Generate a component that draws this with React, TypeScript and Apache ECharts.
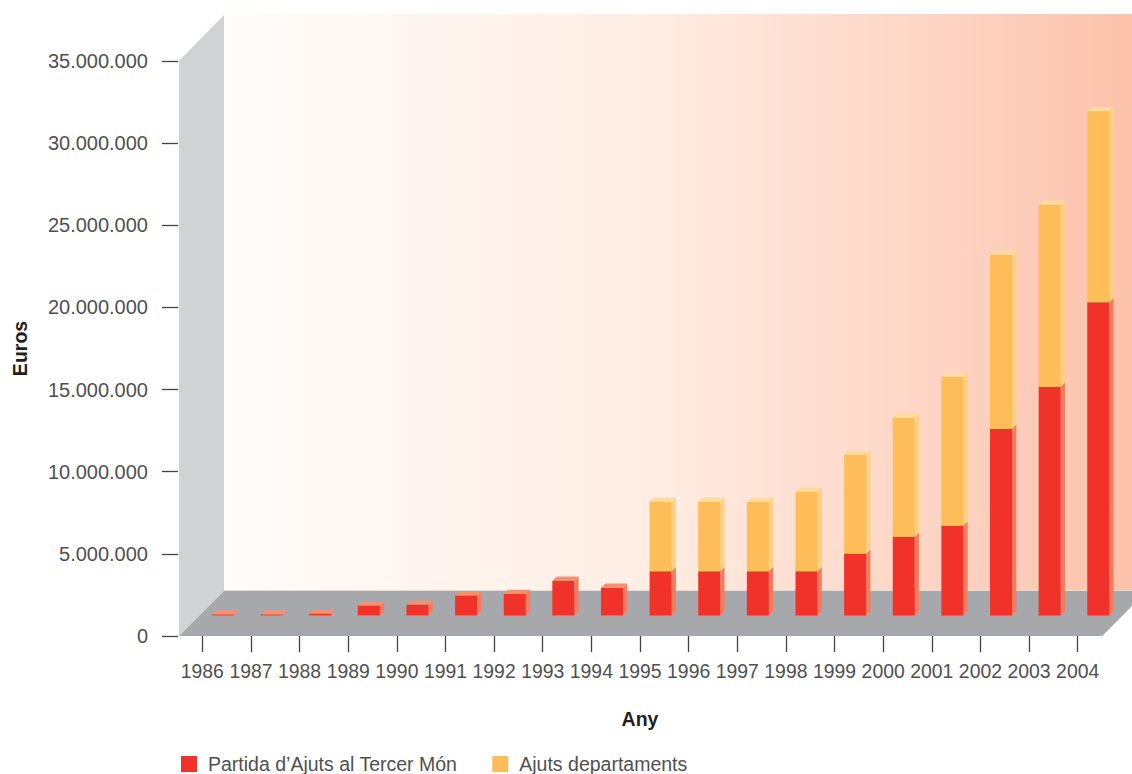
import React, { useEffect, useRef } from "react";
import * as echarts from "echarts";

const years = ["1986","1987","1988","1989","1990","1991","1992","1993","1994","1995","1996","1997","1998","1999","2000","2001","2002","2003","2004"];
const partida = [50000,50000,100000,590000,650000,1200000,1300000,2100000,1680000,2680000,2680000,2680000,2680000,3750000,4790000,5460000,11360000,13920000,19060000];
const departaments = [0,0,0,0,0,0,0,0,0,4240000,4240000,4240000,4850000,6030000,7240000,9070000,10590000,11080000,11620000];
const yTicks = { min: 0, max: 35000000, interval: 5000000 };
const seriesNames = ["Partida d\u2019Ajuts al Tercer M\u00f3n", "Ajuts departaments"];

const FONT = '"Liberation Sans", Arial, sans-serif';
const DEPTH_OFFSET = 20.6;
const BAR_WIDTH = 22;
const CAP = 4.3;

const fmt = (v: number) => String(v).replace(/\B(?=(\d{3})+(?!\d))/g, ".");

function bar3d(colors: { front: string; side: string; top: string }) {
  return (params: any, api: any) => {
    const v = api.value(2) as number;
    const start = api.value(1) as number;
    if (v === start) return null;
    const [cx, y0Raw] = api.coord([api.value(0), start]);
    const [, y1Raw] = api.coord([api.value(0), v]);
    const x = cx + DEPTH_OFFSET - BAR_WIDTH / 2;
    const y0 = y0Raw - DEPTH_OFFSET;
    const y1 = y1Raw - DEPTH_OFFSET;
    const w = BAR_WIDTH;
    return {
      type: "group",
      children: [
        { type: "polygon", shape: { points: [[x + w, y1], [x + w + CAP, y1 - CAP], [x + w + CAP, y0 - CAP], [x + w, y0]] }, style: { fill: colors.side } },
        { type: "polygon", shape: { points: [[x, y1], [x + CAP, y1 - CAP], [x + w + CAP, y1 - CAP], [x + w, y1]] }, style: { fill: colors.top } },
        { type: "rect", shape: { x, y: y1, width: w, height: y0 - y1 }, style: { fill: colors.front } },
      ],
    };
  };
}

export default function App() {
  const ref = useRef<HTMLDivElement>(null);
  useEffect(() => {
    document.body.style.margin = "0";
    const chart = echarts.init(ref.current!, undefined, { renderer: "svg" });
    const redRows = years.map((_, i) => [i, 0, partida[i]]);
    const orangeRows = years.map((_, i) => [i, partida[i], partida[i] + departaments[i]]);
    chart.setOption({
      animation: false,
      backgroundColor: "#ffffff",
      textStyle: { fontFamily: FONT },
      grid: { left: 178, right: 30, top: 61, bottom: 138, containLabel: false, outerBoundsMode: "none" },
      graphic: {
        elements: [
          {
            type: "rect", z: 0, silent: true,
            shape: { x: 224, y: 14, width: 908, height: 577 },
            style: { fill: { type: "linear", x: 0, y: 0, x2: 1, y2: 0, colorStops: [
              { offset: 0, color: "#fffcfa" },
              { offset: 0.45, color: "#ffeee5" },
              { offset: 0.8, color: "#fdd3c2" },
              { offset: 1, color: "#fcc2aa" },
            ] } },
          },
          { type: "polygon", z: 0, silent: true, shape: { points: [[179, 61], [224, 15], [224, 591], [179, 636]] }, style: { fill: "#d1d2d4" } },
          { type: "polygon", z: 0, silent: true, shape: { points: [[179, 636], [1102.3, 636], [1147, 591], [224, 591]] }, style: { fill: "#a7a8ab" } },
          { type: "line", z: 0, silent: true, shape: { x1: 224, y1: 590.5, x2: 1132, y2: 590.5 }, style: { stroke: "#e2dcd8", lineWidth: 1 } },
        ],
      },
      legend: {
        left: 176, top: 749, orient: "horizontal", icon: "rect",
        itemWidth: 16, itemHeight: 16, itemGap: 35,
        textStyle: { fontFamily: FONT, fontSize: 19.5, lineHeight: 16, color: "#505052", padding: [0, 0, 4, 6] },
        data: seriesNames,
      },
      xAxis: {
        type: "category", data: years,
        axisLine: { show: false },
        axisTick: { show: true, alignWithLabel: true, length: 16, lineStyle: { color: "#444446", width: 1.3 } },
        axisLabel: { interval: 0, fontSize: 19.4, color: "#505052", margin: 25, fontFamily: FONT },
        name: "Any", nameLocation: "middle", nameGap: 73,
        nameTextStyle: { fontFamily: FONT, fontSize: 19.5, fontWeight: "bold", color: "#1f1f21" },
      },
      yAxis: {
        type: "value", ...yTicks,
        axisLine: { show: false },
        splitLine: { show: false },
        axisTick: { show: true, length: 16, lineStyle: { color: "#444446", width: 1.3 } },
        axisLabel: { fontSize: 20, color: "#505052", margin: 30, fontFamily: FONT, formatter: fmt },
        name: "Euros", nameLocation: "middle", nameGap: 148, nameRotate: 90,
        nameTextStyle: { fontFamily: FONT, fontSize: 19.5, fontWeight: "bold", color: "#1f1f21" },
      },
      series: [
        {
          type: "custom", name: seriesNames[0], data: redRows, clip: false, z: 3,
          encode: { x: 0, y: 2 }, itemStyle: { color: "#f1322a" },
          renderItem: bar3d({ front: "#f1322a", side: "#f97a5c", top: "#fc8e6e" }),
        },
        {
          type: "custom", name: seriesNames[1], data: orangeRows, clip: false, z: 4,
          encode: { x: 0, y: 2 }, itemStyle: { color: "#febd59" },
          renderItem: bar3d({ front: "#febd59", side: "#ffd081", top: "#ffdc9a" }),
        },
      ],
    });
    return () => chart.dispose();
  }, []);
  return <div ref={ref} style={{ position: "absolute", left: 0, top: 0, width: 1132, height: 774 }} />;
}
